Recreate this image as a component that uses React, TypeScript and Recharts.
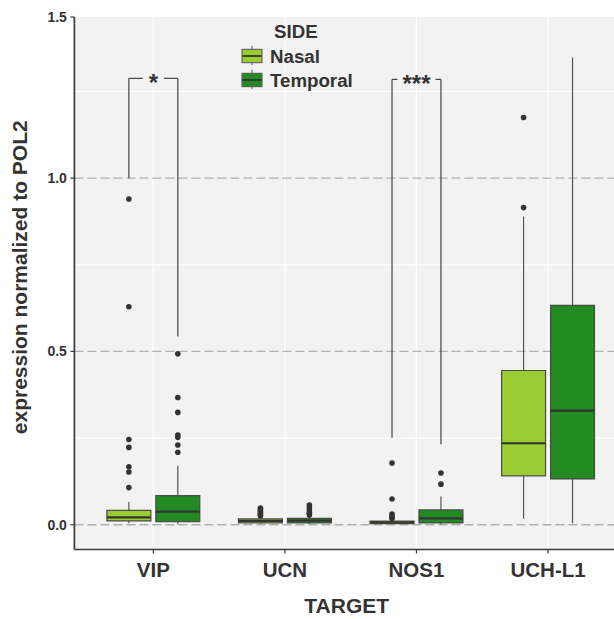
import {
	ComposedChart,
	XAxis,
	YAxis,
	CartesianGrid,
	ReferenceLine,
	ReferenceArea,
	ReferenceDot,
	Scatter,
	Legend,
	Label
} from 'recharts';

const targets = ['VIP', 'UCN', 'NOS1', 'UCH-L1'];
const sides = ['Nasal', 'Temporal'];
const sideColours = ['#9ACD32', '#228B22'];

// box stats per target (VIP, UCN, NOS1, UCH-L1)
const nasalLow = [0.004, 0.002, 0.001, 0.017];
const nasalQ1 = [0.011, 0.005, 0.003, 0.141];
const nasalMed = [0.021, 0.011, 0.007, 0.235];
const nasalQ3 = [0.0415, 0.017, 0.0107, 0.445];
const nasalHigh = [0.0655, 0.022, 0.016, 0.889];
const nasalOutliers = [
	[0.107, 0.152, 0.167, 0.223, 0.246, 0.629, 0.94],
	[0.025, 0.029, 0.033, 0.037, 0.041, 0.045, 0.048],
	[0.018, 0.022, 0.026, 0.031, 0.074, 0.178],
	[0.915, 1.175]
];

const temporalLow = [0.001, 0.002, 0.001, 0.004];
const temporalQ1 = [0.0087, 0.005, 0.005, 0.132];
const temporalMed = [0.0375, 0.012, 0.0185, 0.329];
const temporalQ3 = [0.0837, 0.018, 0.0425, 0.633];
const temporalHigh = [0.17, 0.024, 0.081, 1.348];
const temporalOutliers = [
	[0.209, 0.23, 0.252, 0.259, 0.324, 0.367, 0.493],
	[0.028, 0.032, 0.036, 0.043, 0.05, 0.057],
	[0.117, 0.149],
	[]
];

// significance brackets: target position, text, left/right tip ends, bar height
const bracketTargets = [1, 3];
const bracketLabels = ['*', '***'];
const bracketLeftEnds = [1.0, 0.251];
const bracketRightEnds = [0.543, 0.232];
const bracketTops = [1.288, 1.285];
const bracketGaps = [0.08, 0.145];

const yTicks = [0, 0.5, 1.0, 1.465];
const yTickLabels = ['0.0', '0.5', '1.0', '1.5'];
const majorGrid = [0, 0.5, 1.0];
const minorGrid = [0.25, 0.75, 1.25];

const DODGE = 0.186;
const HALF = 0.167;
const INK = '#333333';
const FONT = '"Liberation Sans", Arial, sans-serif';

const groups = [
	{low: nasalLow, q1: nasalQ1, med: nasalMed, q3: nasalQ3, high: nasalHigh, out: nasalOutliers, offset: -DODGE, colour: sideColours[0]},
	{low: temporalLow, q1: temporalQ1, med: temporalMed, q3: temporalQ3, high: temporalHigh, out: temporalOutliers, offset: DODGE, colour: sideColours[1]}
];

function LegendBox() {
	return (
		<svg width={150} height={80} style={{fontFamily: FONT}}>
			<text x={44} y={18.3} fontSize={18.7} fontWeight={700} fill={INK}>
				SIDE
			</text>
			{sides.map((s, i) => {
				const y = 29.3 + i * 24;
				return (
					<g key={s}>
						<line x1={22} x2={22} y1={y - 3.6} y2={y + 15.7} stroke="#555" strokeWidth={1} />
						<rect x={12} y={y} width={20} height={13.4} fill={sideColours[i]} stroke="#555" strokeWidth={1} />
						<line x1={12} x2={32} y1={y + 6.7} y2={y + 6.7} stroke={INK} strokeWidth={1.8} />
						<text x={40} y={y + 13.6} fontSize={18.7} fontWeight={700} fill={INK}>
							{s}
						</text>
					</g>
				);
			})}
		</svg>
	);
}

export default function App() {
	const outlierData = groups.map(g =>
		g.out.flatMap((vals, i) => vals.map(v => ({x: i + 1 + g.offset, y: v})))
	);

	return (
		<div style={{position: 'fixed', left: 0, top: 0, width: 614, height: 619, overflow: 'hidden', background: '#fff', fontFamily: FONT}}>
			<ComposedChart width={640} height={619} margin={{top: 17, right: 13, bottom: 0, left: 0.4}}>
				<CartesianGrid fill="#f2f2f2" horizontal={false} vertical={false} />
				{minorGrid.map(v => (
					<ReferenceLine key={'mi' + v} y={v} stroke="#ffffff" strokeWidth={1.2} zIndex={-60} />
				))}
				{targets.map((t, i) => (
					<ReferenceLine key={'v' + t} x={i + 1} stroke="#ffffff" strokeWidth={1.4} zIndex={-60} />
				))}
				{majorGrid.map(v => (
					<ReferenceLine key={'ma' + v} y={v} stroke="#b0b0b0" strokeWidth={1.4} strokeDasharray="9 4" zIndex={-50} />
				))}

				<XAxis
					type="number"
					dataKey="x"
					domain={[0.4, 4.6]}
					ticks={[1, 2, 3, 4]}
					interval={0}
					allowDataOverflow
					tickFormatter={(v: number) => targets[v - 1]}
					height={69.5}
					tickSize={4}
					tickMargin={8.5}
					tick={{fontSize: 20.5, fontWeight: 700, fill: INK}}
					axisLine={{stroke: '#3a3a3a', strokeWidth: 1.7}}
					tickLine={{stroke: '#3a3a3a', strokeWidth: 1.2}}
				>
					<Label value="TARGET" position="insideBottom" offset={6} dx={-4} fontSize={21} fontWeight={700} fill={INK} />
				</XAxis>
				<YAxis
					type="number"
					dataKey="y"
					domain={[-0.0716, 1.465]}
					ticks={yTicks}
					interval={0}
					allowDataOverflow
					tickFormatter={(v: number, i: number) => yTickLabels[i]}
					width={74}
					tickSize={4}
					tickMargin={3.5}
					tick={{fontSize: 14, fontWeight: 700, fill: INK}}
					axisLine={{stroke: '#3a3a3a', strokeWidth: 1.7}}
					tickLine={{stroke: '#3a3a3a', strokeWidth: 1.2}}
				>
					<Label
						value="expression normalized to POL2"
						angle={-90}
						position="center"
						dx={-18}
						dy={-6}
						fontSize={21}
						fontWeight={700}
						fill={INK}
					/>
				</YAxis>

				{groups.map((g, gi) =>
					targets.map((t, i) => {
						const c = i + 1 + g.offset;
						return [
							<ReferenceLine key={`wu${gi}${i}`} segment={[{x: c, y: g.q3[i]}, {x: c, y: g.high[i]}]} stroke="#555" strokeWidth={1.2} zIndex={50} />,
							<ReferenceLine key={`wl${gi}${i}`} segment={[{x: c, y: g.low[i]}, {x: c, y: g.q1[i]}]} stroke="#555" strokeWidth={1.2} zIndex={50} />
						];
					})
				)}
				{groups.map((g, gi) =>
					targets.map((t, i) => {
						const c = i + 1 + g.offset;
						return (
							<ReferenceArea
								key={`b${gi}${i}`}
								x1={c - HALF}
								x2={c + HALF}
								y1={g.q1[i]}
								y2={g.q3[i]}
								fill={g.colour}
								fillOpacity={1}
								stroke="#4a4a4a"
								strokeWidth={1.2}
								zIndex={100}
							/>
						);
					})
				)}
				{groups.map((g, gi) =>
					targets.map((t, i) => {
						const c = i + 1 + g.offset;
						return (
							<ReferenceLine
								key={`m${gi}${i}`}
								segment={[{x: c - HALF, y: g.med[i]}, {x: c + HALF, y: g.med[i]}]}
								stroke={INK}
								strokeWidth={2.2}
								zIndex={150}
							/>
						);
					})
				)}

				{outlierData.map((d, gi) => (
					<Scatter
						key={'o' + gi}
						data={d}
						isAnimationActive={false}
						shape={(p: any) => <circle cx={p.cx} cy={p.cy} r={2.8} fill={INK} />}
					/>
				))}

				{bracketTargets.map((bt, k) => {
					const l = bt - DODGE;
					const r = bt + DODGE;
					const top = bracketTops[k];
					return [
						<ReferenceLine key={`bl${k}`} segment={[{x: l, y: bracketLeftEnds[k]}, {x: l, y: top}]} stroke="#444" strokeWidth={1.2} zIndex={700} />,
						<ReferenceLine key={`br${k}`} segment={[{x: r, y: bracketRightEnds[k]}, {x: r, y: top}]} stroke="#444" strokeWidth={1.2} zIndex={700} />,
						<ReferenceLine key={`bh1${k}`} segment={[{x: l, y: top}, {x: bt - bracketGaps[k], y: top}]} stroke="#444" strokeWidth={1.2} zIndex={700} />,
						<ReferenceLine key={`bh2${k}`} segment={[{x: bt + bracketGaps[k], y: top}, {x: r, y: top}]} stroke="#444" strokeWidth={1.2} zIndex={700} />,
						<ReferenceDot
							key={`bt${k}`}
							x={bt}
							y={top}
							r={0}
							fill="none"
							stroke="none"
							zIndex={700}
							label={{value: bracketLabels[k], position: 'center', dy: 4, fontSize: 24, fontWeight: 700, fill: INK}}
						/>
					];
				})}

				<Legend
					layout="horizontal"
					verticalAlign="middle"
					align="center"
					content={() => <LegendBox />}
					wrapperStyle={{left: 230, top: 20, width: 150, height: 80}}
				/>
			</ComposedChart>
		</div>
	);
}
